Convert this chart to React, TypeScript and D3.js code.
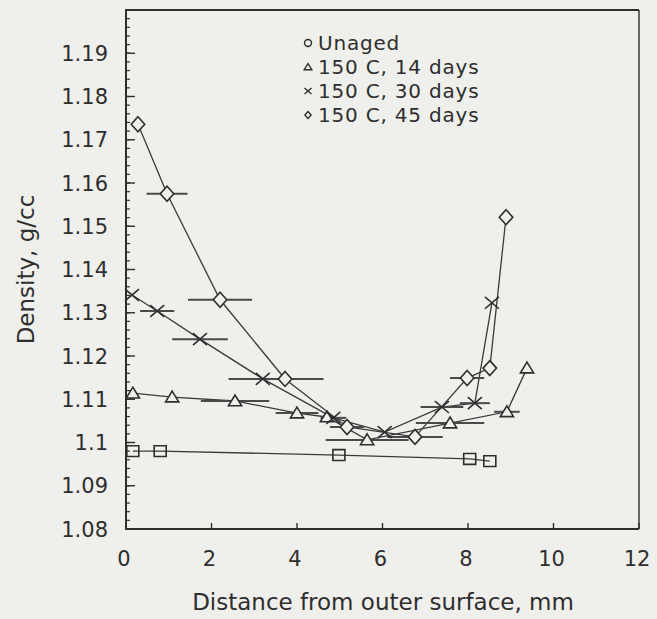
import { useEffect } from 'react';
import * as d3 from 'd3';

// distance (mm), density (g/cc), horizontal error half-width (mm)
const unagedX = [0.16, 0.8, 4.98, 8.04, 8.51];
const unagedY = [1.098, 1.098, 1.0971, 1.0962, 1.0957];
const unagedErr = [0, 0, 0, 0, 0];

const d14X = [0.16, 1.08, 2.55, 4.0, 4.7, 5.64, 7.58, 8.91, 9.38];
const d14Y = [1.1114, 1.1105, 1.1096, 1.1068, 1.1059, 1.1006, 1.1045, 1.1071, 1.1172];
const d14Err = [0, 0, 0.8, 0.5, 0, 0.97, 0.8, 0.3, 0];

const d30X = [0.14, 0.73, 1.73, 3.2, 4.85, 6.05, 7.39, 8.16, 8.56];
const d30Y = [1.1341, 1.1304, 1.1239, 1.1147, 1.1057, 1.1024, 1.1082, 1.1091, 1.1323];
const d30Err = [0, 0.4, 0.65, 0.8, 0.3, 0, 0.5, 0.35, 0];

const d45X = [0.28, 0.96, 2.2, 3.72, 5.17, 6.76, 7.98, 8.51, 8.89];
const d45Y = [1.1736, 1.1575, 1.133, 1.1147, 1.1036, 1.1013, 1.1149, 1.1172, 1.1521];
const d45Err = [0, 0.48, 0.75, 0.9, 0.4, 0.65, 0.4, 0, 0];

const legendLabels = ['Unaged', '150 C, 14 days', '150 C, 30 days', '150 C, 45 days'];
const xTicks = [0, 2, 4, 6, 8, 10, 12];
const yTicks = [1.08, 1.09, 1.1, 1.11, 1.12, 1.13, 1.14, 1.15, 1.16, 1.17, 1.18, 1.19];

type Pt = { x: number; y: number; e: number };
const zip = (xs: number[], ys: number[], es: number[]): Pt[] =>
  xs.map((x, i) => ({ x, y: ys[i], e: es[i] }));

const series = [
  { key: 'unaged', data: zip(unagedX, unagedY, unagedErr), marker: 'square' },
  { key: 'd14', data: zip(d14X, d14Y, d14Err), marker: 'triangle' },
  { key: 'd30', data: zip(d30X, d30Y, d30Err), marker: 'x' },
  { key: 'd45', data: zip(d45X, d45Y, d45Err), marker: 'diamond' },
];

const BG = '#efefec';
const INK = '#2e2e2e';
const FONT = '"DejaVu Sans", Arial, sans-serif';

function markerPath(kind: string, s: number) {
  switch (kind) {
    case 'square':
      return `M${-s},${-s * 0.9}H${s}V${s * 0.9}H${-s}Z`;
    case 'triangle':
      return `M0,${-s}L${s * 1.1},${s * 0.8}H${-s * 1.1}Z`;
    case 'diamond':
      return `M0,${-s}L${s * 0.9},0L0,${s}L${-s * 0.9},0Z`;
    case 'x':
      return `M${-s},${-s * 0.85}L${s},${s * 0.85}M${-s},${s * 0.85}L${s},${-s * 0.85}`;
    case 'circle':
      return d3.arc()({ innerRadius: 0, outerRadius: s, startAngle: 0, endAngle: 2 * Math.PI }) || '';
    default:
      return '';
  }
}

export default function App() {
  useEffect(() => {
    document.body.style.margin = '0';
    document.body.style.background = BG;
  }, []);

  const width = 657;
  const height = 619;
  const left = 126, right = 639, top = 10, bottom = 529;

  const x = d3.scaleLinear().domain([0, 12]).range([left, right]);
  const y = d3.scaleLinear().domain([1.08, 1.2]).range([bottom, top]);
  const minorY = d3.range(1.08, 1.2, 0.002);

  const line = d3.line<Pt>().x(d => x(d.x)).y(d => y(d.y));
  const legendMarkers = ['circle', 'triangle', 'x', 'diamond'];

  return (
    <svg width={width} height={height} style={{ display: 'block', background: BG }}>
      {/* minor + major ticks on the y axis */}
      {minorY.map((v, i) => (
        <line key={'my' + i} x1={left} x2={left + 4} y1={y(v)} y2={y(v)} stroke={INK} strokeWidth={1.2} />
      ))}
      {yTicks.map(v => (
        <g key={'yt' + v}>
          <line x1={left} x2={left + 9} y1={y(v)} y2={y(v)} stroke={INK} strokeWidth={1.4} />
          <text x={108} y={y(v)} dy="0.36em" textAnchor="end" fontSize={21} fontFamily={FONT} fill={INK}>
            {d3.format('')(+v.toFixed(2))}
          </text>
        </g>
      ))}
      {xTicks.map(v => (
        <g key={'xt' + v}>
          <line x1={x(v)} x2={x(v)} y1={bottom} y2={bottom - 6} stroke={INK} strokeWidth={1.4} />
          <text x={x(v) - 2} y={566} textAnchor="middle" fontSize={21} fontFamily={FONT} fill={INK}>
            {v}
          </text>
        </g>
      ))}

      {/* frame */}
      <path d={`M${right},${top}V${bottom}`} stroke={INK} strokeWidth={1.4} />
      <path d={`M${right},${top}H${left}V${bottom}H${right}`} fill="none" stroke={INK} strokeWidth={2} />

      {/* connecting lines */}
      {series.map(s => (
        <path key={'l' + s.key} d={line(s.data) || ''} fill="none" stroke="#3a3a3a" strokeWidth={1.3} />
      ))}

      {/* horizontal error bars */}
      {series.map(s =>
        s.data.filter(d => d.e > 0).map((d, i) => (
          <line key={'e' + s.key + i} x1={x(d.x - d.e)} x2={x(d.x + d.e)} y1={y(d.y)} y2={y(d.y)}
            stroke="#4a4a4a" strokeWidth={2} />
        ))
      )}

      {/* markers */}
      {series.map(s =>
        s.data.map((d, i) => (
          <path key={'m' + s.key + i} transform={`translate(${x(d.x)},${y(d.y)})`}
            d={markerPath(s.marker, s.marker === 'diamond' ? 7.5 : s.marker === 'x' ? 7 : 6)}
            fill={s.marker === 'x' ? 'none' : BG} fillOpacity={s.marker === 'square' ? 0 : 1}
            stroke={INK} strokeWidth={1.6} />
        ))
      )}

      {/* legend */}
      {legendLabels.map((lab, i) => (
        <g key={'lg' + i} transform={`translate(308,${43 + i * 24})`}>
          <path d={markerPath(legendMarkers[i], 3.5)} fill={legendMarkers[i] === 'x' ? 'none' : BG}
            stroke={INK} strokeWidth={1.4} />
          <text x={10} dy="0.36em" fontSize={20} letterSpacing={0.8} fontFamily={FONT} fill={INK}>{lab}</text>
        </g>
      ))}

      {/* axis titles */}
      <text transform={`translate(34,${(top + bottom) / 2}) rotate(-90)`} textAnchor="middle"
        fontSize={23} fontFamily={FONT} fill={INK}>Density, g/cc</text>
      <text x={383} y={610} textAnchor="middle" fontSize={23} fontFamily={FONT} fill={INK}>
        Distance from outer surface, mm
      </text>
    </svg>
  );
}
